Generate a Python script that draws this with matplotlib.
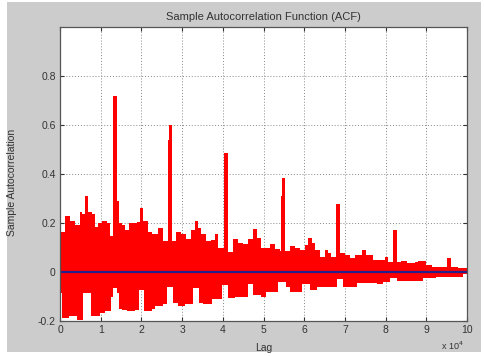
import matplotlib
matplotlib.use("Agg")
import matplotlib.pyplot as plt
from matplotlib.patches import Rectangle
import numpy as np

upper_lag = [0, 1200, 2500, 3700, 4900, 5300, 6100, 7000, 7800, 8600, 9400,
             10200, 11500, 12300, 14100, 14600, 15200, 16000, 17000, 19000,
             19700, 20500, 21700, 22500, 24100, 25350, 28600, 29800, 31000,
             32200, 33050, 33900, 34700, 35900, 37100, 38100, 38900, 41400,
             42600, 43800, 45000, 46300, 47500, 48300, 49500, 51600, 52800,
             54000, 56500, 57700, 59000, 60200, 61000, 61800, 62700, 63900,
             65100, 65900, 66700, 68800, 70000, 71200, 72500, 74100, 75300,
             77000, 79850, 80700, 83900, 85200, 87200, 88000, 90000, 91300,
             96200, 97800, 100000]
upper_val = [0.165, 0.23, 0.21, 0.19, 0.245, 0.235, 0.31, 0.245, 0.235, 0.185,
             0.20, 0.21, 0.20, 0.145, 0.29, 0.20, 0.19, 0.17, 0.20, 0.205,
             0.26, 0.21, 0.165, 0.155, 0.18, 0.125, 0.165, 0.155, 0.135,
             0.17, 0.21, 0.18, 0.155, 0.125, 0.13, 0.155, 0.10, 0.08,
             0.135, 0.12, 0.115, 0.135, 0.175, 0.14, 0.10, 0.115, 0.095,
             0.085, 0.105, 0.097, 0.09, 0.11, 0.137, 0.117, 0.09, 0.062,
             0.09, 0.076, 0.062, 0.076, 0.069, 0.056, 0.069, 0.09, 0.069,
             0.049, 0.06, 0.042, 0.045, 0.035, 0.04, 0.045, 0.029, 0.022,
             0.022, 0.015, 0.015]

lower_lag = [0, 400, 2300, 4100, 5600, 7600, 9800, 11000, 12500, 13100,
             13900, 14500, 15200, 16400, 18400, 19400, 20700, 22500, 23300,
             25400, 26200, 27800, 29000, 30700, 32700, 34100, 35200, 37300,
             39700, 41400, 43000, 46300, 47500, 49500, 50500, 53500, 55500,
             56500, 59400, 61400, 63100, 68000, 69600, 72900, 77800, 79400,
             81100, 82700, 89300, 92500, 99100, 100000]
lower_val = [-0.087, -0.186, -0.18, -0.196, -0.087, -0.18, -0.168, -0.16,
             -0.10, -0.066, -0.087, -0.15, -0.155, -0.16, -0.155, -0.073,
             -0.16, -0.15, -0.14, -0.13, -0.06, -0.125, -0.14, -0.13, -0.065,
             -0.125, -0.13, -0.11, -0.053, -0.105, -0.10, -0.05, -0.095,
             -0.10, -0.08, -0.04, -0.06, -0.08, -0.05, -0.075, -0.06, -0.03,
             -0.06, -0.045, -0.05, -0.04, -0.025, -0.035, -0.025, -0.02,
             -0.01, -0.01]

spike_lag = [0, 13600, 26900, 27250, 40700, 54650, 54900, 68200, 82200, 95600]
spike_val = [1.0, 0.72, 0.54, 0.60, 0.485, 0.31, 0.384, 0.277, 0.171, 0.057]
spike_w = [700, 1000, 500, 700, 1000, 500, 700, 1000, 1000, 900]

xtick_pos = [0, 10000, 20000, 30000, 40000, 50000, 60000, 70000, 80000, 90000, 100000]
xtick_lab = ['0', '1', '2', '3', '4', '5', '6', '7', '8', '9', '10']
ytick_pos = [-0.2, 0, 0.2, 0.4, 0.6, 0.8]
ytick_lab = ['-0.2', '0', '0.2', '0.4', '0.6', '0.8']

W, H = 484, 356
fig = plt.figure(figsize=(W / 100, H / 100), dpi=100, facecolor='white')
fig.patches.append(Rectangle((7 / W, 4 / H), 474 / W, 350 / H,
                             transform=fig.transFigure, facecolor='#cccccc',
                             edgecolor='none', zorder=-10))
ax = fig.add_axes([60 / W, (H - 321) / H, 407 / W, 294 / H])
ax.set_facecolor('white')

red = '#ff0000'
ax.fill_between(upper_lag, 0, upper_val, step='post', color=red, lw=0, zorder=2)
ax.fill_between(lower_lag, lower_val, 0, step='post', color=red, lw=0, zorder=2)
ax.bar(spike_lag, spike_val, width=spike_w, color=red, lw=0, zorder=3)
ax.axhline(0, color='#24208c', lw=1.6, zorder=4)

ax.set_xlim(0, 100000)
ax.set_ylim(-0.2, 1.0)
ax.set_xticks(xtick_pos)
ax.set_xticklabels(xtick_lab)
ax.set_yticks(ytick_pos)
ax.set_yticklabels(ytick_lab)

txt = '#333333'
ax.tick_params(direction='in', length=3, width=0.8, top=True, right=True,
               labelsize=7.5, colors='#333333', pad=3)
ax.grid(True, linestyle=(0, (1, 2)), color='#888888', lw=0.7, zorder=1)
ax.set_axisbelow(True)
for s in ax.spines.values():
    s.set_color('#555555')
    s.set_linewidth(0.9)
    s.set_zorder(5)

ax.set_title('Sample Autocorrelation Function (ACF)', fontsize=8, color=txt,
             pad=5, family='Liberation Sans')
ax.set_xlabel('Lag', fontsize=7.5, color=txt, family='Liberation Sans')
ax.set_ylabel('Sample Autocorrelation', fontsize=7.5, color=txt,
              family='Liberation Sans')
ax.xaxis.set_label_coords(0.5, -0.075)
ax.yaxis.set_label_coords(-0.105, 0.47)
for lab in ax.get_xticklabels() + ax.get_yticklabels():
    lab.set_family('Liberation Sans')
fig.text(441 / W, 1 - 350 / H, r'x 10$^4$', fontsize=6.5, color=txt,
         family='Liberation Sans', va='baseline')

fig.savefig('out.png', dpi=100, facecolor=fig.get_facecolor())
